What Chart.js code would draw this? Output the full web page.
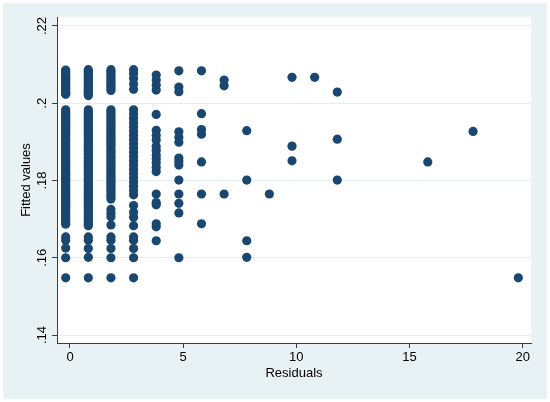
<!DOCTYPE html>
<html>
<head>
<meta charset="utf-8">
<script src="https://cdn.jsdelivr.net/npm/chart.js@4.4.1/dist/chart.umd.min.js"></script>
<style>
  html, body { margin: 0; padding: 0; background: #ffffff; }
</style>
</head>
<body>
<canvas id="residPlot" width="550" height="402"></canvas>
<script>
// residual value of each column of dots
var residualCols = [-0.19, 0.81, 1.81, 2.81, 3.81, 4.81, 5.81, 6.81, 7.81, 8.81, 9.81, 10.81, 11.81, 15.81, 17.81, 19.81];

// fitted values (same order as residualCols)
var fitted0 = [0.2086, 0.2082, 0.2078, 0.2074, 0.2070, 0.2066, 0.2062, 0.2058, 0.2054, 0.2050,
  0.2046, 0.2042, 0.2038, 0.2034, 0.2030, 0.2026, 0.2023,
  0.1983, 0.1978, 0.1974, 0.1969, 0.1965, 0.1960, 0.1956, 0.1951, 0.1947, 0.1942, 0.1938,
  0.1933, 0.1929, 0.1924, 0.1920, 0.1915, 0.1911, 0.1906, 0.1902, 0.1897, 0.1893, 0.1888,
  0.1884, 0.1879, 0.1875, 0.1870, 0.1866, 0.1861, 0.1857, 0.1852, 0.1848, 0.1843, 0.1839,
  0.1834, 0.1830, 0.1825, 0.1821, 0.1816, 0.1812, 0.1807, 0.1803, 0.1798, 0.1794, 0.1789,
  0.1785, 0.1780, 0.1776, 0.1771, 0.1767, 0.1762, 0.1758, 0.1753, 0.1749, 0.1744, 0.1740,
  0.1735, 0.1731, 0.1726, 0.1722, 0.1717, 0.1713, 0.1708, 0.1704, 0.1699, 0.1695, 0.1691, 0.1687,
  0.1654, 0.1645, 0.1625, 0.1600, 0.1548];
var fitted1 = [0.2087, 0.2083, 0.2079, 0.2075, 0.2071, 0.2067, 0.2063, 0.2059, 0.2055, 0.2051,
  0.2047, 0.2043, 0.2039, 0.2035, 0.2031, 0.2028, 0.2025, 0.2020,
  0.1983, 0.1978, 0.1974, 0.1969, 0.1965, 0.1960, 0.1956, 0.1951, 0.1947, 0.1942, 0.1938,
  0.1933, 0.1929, 0.1924, 0.1920, 0.1915, 0.1911, 0.1906, 0.1902, 0.1897, 0.1893, 0.1888,
  0.1884, 0.1879, 0.1875, 0.1870, 0.1866, 0.1861, 0.1857, 0.1852, 0.1848, 0.1843, 0.1839,
  0.1834, 0.1830, 0.1825, 0.1821, 0.1816, 0.1812, 0.1807, 0.1803, 0.1798, 0.1794, 0.1789,
  0.1785, 0.1780, 0.1776, 0.1771, 0.1767, 0.1762, 0.1758, 0.1753, 0.1749, 0.1744, 0.1740,
  0.1735, 0.1731, 0.1726, 0.1722, 0.1717, 0.1713, 0.1708, 0.1704, 0.1699, 0.1695, 0.1690, 0.1686, 0.1683,
  0.1654, 0.1645, 0.1624, 0.1601, 0.1548];
var fitted2 = [0.2087, 0.2082, 0.2077, 0.2071, 0.2066, 0.2060, 0.2055, 0.2049, 0.2044, 0.2038, 0.2033,
  0.1983, 0.1978, 0.1972, 0.1966, 0.1960, 0.1955, 0.1949, 0.1944, 0.1938, 0.1932, 0.1927,
  0.1921, 0.1916, 0.1910, 0.1904, 0.1899, 0.1893, 0.1888, 0.1882, 0.1876, 0.1871, 0.1865,
  0.1860, 0.1854, 0.1848, 0.1843, 0.1837, 0.1832, 0.1826, 0.1820, 0.1815, 0.1809, 0.1804,
  0.1798, 0.1792, 0.1787, 0.1781, 0.1776, 0.1770, 0.1764, 0.1758, 0.1752,
  0.1725, 0.1715, 0.1706, 0.1685, 0.1654, 0.1645, 0.1624, 0.1600, 0.1548];
var fitted3 = [0.2087, 0.2077, 0.2064, 0.2050, 0.2036,
  0.1983, 0.1972, 0.1961, 0.1950, 0.1939, 0.1928, 0.1917, 0.1906, 0.1895, 0.1884, 0.1873,
  0.1862, 0.1851, 0.1840, 0.1829, 0.1818, 0.1807, 0.1796, 0.1785, 0.1774, 0.1763,
  0.1735, 0.1718, 0.1705, 0.1683, 0.1654, 0.1645, 0.1624, 0.1600, 0.1548];
var fitted4 = [0.2073, 0.2060, 0.2047, 0.2034, 0.1971, 0.1930, 0.1917, 0.1905, 0.1888, 0.1878,
  0.1866, 0.1856, 0.1846, 0.1834, 0.1823, 0.1765, 0.1743, 0.1737, 0.1688, 0.1680, 0.1644];
var fitted5 = [0.2084, 0.2042, 0.2030, 0.1926, 0.1912, 0.1899, 0.1858, 0.1849, 0.1840, 0.1801,
  0.1765, 0.1741, 0.1716, 0.1600];
var fitted6 = [0.2084, 0.1973, 0.1932, 0.1920, 0.1848, 0.1765, 0.1688];
var fitted7 = [0.2060, 0.2045, 0.1765];
var fitted8 = [0.1929, 0.1801, 0.1644, 0.1601];
var fitted9 = [0.1765];
var fitted10 = [0.2067, 0.1889, 0.1851];
var fitted11 = [0.2067];
var fitted12 = [0.2029, 0.1907, 0.1801];
var fitted16 = [0.1848];
var fitted18 = [0.1927];
var fitted20 = [0.1548];

var fittedCols = [fitted0, fitted1, fitted2, fitted3, fitted4, fitted5, fitted6, fitted7,
  fitted8, fitted9, fitted10, fitted11, fitted12, fitted16, fitted18, fitted20];

var xTicks = [0, 5, 10, 15, 20];
var xTickLabels = ['0', '5', '10', '15', '20'];
var yTicks = [0.14, 0.16, 0.18, 0.20, 0.22];
var yTickLabels = ['.14', '.16', '.18', '.2', '.22'];

var markerColor = '#1a476f';
var outerColor = '#e8f1f3';
var axisColor = '#3c3c3c';
var gridColor = '#e4ecef';
var fontFamily = '"Liberation Sans", Arial, Helvetica, sans-serif';

// flatten the columns into x/y points
var points = [];
for (var i = 0; i < residualCols.length; i++) {
  for (var j = 0; j < fittedCols[i].length; j++) {
    points.push({ x: residualCols[i], y: fittedCols[i][j] });
  }
}

var stataBackground = {
  id: 'stataBackground',
  beforeDraw: function (chart) {
    var ctx = chart.ctx;
    var a = chart.chartArea;
    ctx.save();
    ctx.fillStyle = '#ffffff';
    ctx.fillRect(0, 0, chart.width, chart.height);
    ctx.fillStyle = outerColor;
    ctx.fillRect(3, 3, chart.width - 6, chart.height - 6);
    ctx.fillStyle = '#ffffff';
    ctx.fillRect(a.left, a.top, a.right - a.left, a.bottom - a.top);
    ctx.restore();
  }
};

var ctx = document.getElementById('residPlot');
var residChart = new Chart(ctx, {
  type: 'scatter',
  data: {
    datasets: [{
      label: 'Fitted values',
      data: points,
      backgroundColor: markerColor,
      borderWidth: 0,
      pointRadius: 4.6,
      pointHoverRadius: 4.6
    }]
  },
  options: {
    responsive: false,
    animation: false,
    layout: { padding: { left: 0, top: 17, right: 19, bottom: 0 } },
    plugins: {
      legend: { display: false },
      tooltip: { enabled: false }
    },
    scales: {
      x: {
        type: 'linear',
        min: -0.574,
        max: 20.37,
        afterBuildTicks: function (s) { s.ticks = xTicks.map(function (v) { return { value: v }; }); },
        afterFit: function (s) { s.height = 59; },
        grid: { drawOnChartArea: false, drawTicks: true, tickLength: 5, tickColor: axisColor },
        border: { display: true, color: axisColor, width: 1 },
        ticks: {
          autoSkip: false,
          maxRotation: 0,
          padding: 2,
          color: '#000',
          font: { family: fontFamily, size: 13 },
          callback: function (v, idx) { return xTickLabels[idx]; }
        },
        title: {
          display: true,
          text: 'Residuals',
          color: '#000',
          font: { family: fontFamily, size: 13 },
          padding: { top: 0, bottom: 21 }
        }
      },
      y: {
        type: 'linear',
        min: 0.13793,
        max: 0.22233,
        afterBuildTicks: function (s) { s.ticks = yTicks.map(function (v) { return { value: v }; }); },
        afterFit: function (s) { s.width = 57; },
        grid: { color: gridColor, lineWidth: 1, drawTicks: true, tickLength: 5, tickColor: axisColor },
        border: { display: true, color: axisColor, width: 1 },
        ticks: {
          autoSkip: false,
          minRotation: 90,
          maxRotation: 90,
          crossAlign: 'center',
          padding: 1,
          color: '#000',
          font: { family: fontFamily, size: 13 },
          callback: function (v, idx) { return yTickLabels[idx]; }
        },
        title: {
          display: true,
          text: 'Fitted values',
          color: '#000',
          font: { family: fontFamily, size: 13 },
          padding: { top: 19, bottom: 0 }
        }
      }
    }
  },
  plugins: [stataBackground]
});
</script>
</body>
</html>
